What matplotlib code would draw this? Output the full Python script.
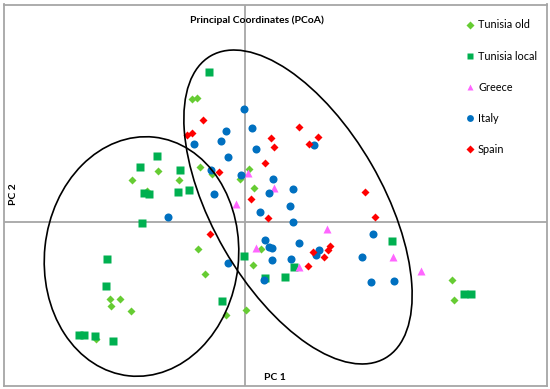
import matplotlib.pyplot as plt
from matplotlib.patches import Ellipse

plt.rcParams['font.family'] = ['Lato', 'DejaVu Sans']

# coordenadas PCoA (PC1, PC2)
tun_old_x = [-0.53, -0.48, -0.87, -0.45, 0.04, -0.05, -1.13, -0.66, -0.33, -0.98, 0.09, -0.47,
             0.16, 0.08, -0.40, -1.35, -1.25, -1.34, -1.14, 0.01, -0.19, -1.49, 2.07, 2.09]
tun_old_y = [1.23, 1.24, 0.51, 0.55, 0.53, 0.43, 0.42, 0.42, 0.48, 0.31, 0.34, -0.27,
             -0.27, -0.43, -0.52, -0.77, -0.77, -0.84, -0.89, -0.88, -0.93, -1.17, -0.58, -0.78]

tun_local_x = [-0.36, -0.88, -1.05, -0.65, -0.67, -0.56, -1.01, -0.96, -1.03, -0.01, 0.20, -1.38,
               -1.39, -0.23, -1.66, -1.61, -1.50, -1.32, 1.47, 0.49, 0.40, 2.19, 2.26]
tun_local_y = [1.50, 0.66, 0.55, 0.52, 0.30, 0.32, 0.29, 0.28, -0.01, -0.34, -0.56, -0.37,
               -0.64, -0.79, -1.13, -1.13, -1.14, -1.19, -0.19, -0.45, -0.55, -0.72, -0.72]

greece_x = [0.03, 0.29, -0.09, 0.11, 0.82, 1.48, 0.54, 1.76]
greece_y = [0.49, 0.34, 0.18, -0.26, -0.07, -0.35, -0.45, -0.49]

italy_x = [-0.01, -0.19, 0.07, -0.51, -0.24, 0.11, -0.17, -0.34, -0.04, 0.28, -0.31, 0.24, 0.69,
           0.48, 0.15, -0.77, 0.20, 0.24, 0.27, -0.17, 0.27, 0.19, 0.45, 0.48, 1.28, 0.54, 0.74,
           0.71, 1.17, 0.46, 1.26, 1.49]
italy_y = [1.13, 0.91, 0.94, 0.78, 0.81, 0.73, 0.65, 0.52, 0.47, 0.43, 0.28, 0.29, 0.77,
           0.33, 0.10, 0.05, -0.18, -0.25, -0.26, -0.41, -0.38, -0.58, 0.16, 0.00, -0.12, -0.21, -0.28,
           -0.33, -0.35, -0.37, -0.60, -0.59]

spain_x = [-0.42, -0.58, -0.53, 0.26, 0.29, 0.20, -0.26, 0.54, 0.73, 0.64, 1.20, 0.06, 0.23,
           -0.35, 1.30, 0.85, 0.83, 0.68, 0.79, 0.63]
spain_y = [1.02, 0.87, 0.89, 0.84, 0.75, 0.59, 0.50, 0.95, 0.85, 0.78, 0.30, 0.23, 0.04,
           -0.12, 0.05, -0.24, -0.28, -0.30, -0.35, -0.44]

# elipses de agrupamiento: centro, ancho, alto, ángulo
ell_left = ((-1.035, -0.345), 1.94, 2.40, -6)
ell_right = ((0.53, 0.15), 3.49, 1.70, -60)

fig = plt.figure(figsize=(5.5, 3.89), dpi=100)
ax = fig.add_axes([3.5 / 550, 3.5 / 389, 543 / 550, 381 / 389])

ax.axhline(0, color='#A6A6A6', lw=1.3, zorder=1)
ax.axvline(0, color='#A6A6A6', lw=1.3, zorder=1)

ms = 5.2
ax.plot(tun_old_x, tun_old_y, 'D', color='#66CC33', ms=ms - 0.8, mec='none', ls='none', label='Tunisia old')
ax.plot(tun_local_x, tun_local_y, 's', color='#00B050', ms=ms, mec='none', ls='none', label='Tunisia local')
ax.plot(greece_x, greece_y, '^', color='#FF66FF', ms=ms + 0.4, mec='none', ls='none', label='Greece')
ax.plot(italy_x, italy_y, 'o', color='#0070C0', ms=ms + 0.6, mec='none', ls='none', label='Italy')
ax.plot(spain_x, spain_y, 'D', color='#FF0000', ms=ms - 0.8, mec='none', ls='none', label='Spain')

for (c, w, h, a) in [ell_left, ell_right]:
    ax.add_patch(Ellipse(c, w, h, angle=a, fill=False, ec='black', lw=1.2, zorder=4))

ax.set_xlim(-2.415, 3.015)
ax.set_ylim(-1.635, 2.175)
ax.set_xticks([])
ax.set_yticks([])
for s in ax.spines.values():
    s.set_color('#A6A6A6')
    s.set_linewidth(1.3)

ax.text(0.12, 2.02, 'Principal Coordinates (PCoA)', fontsize=7.5, fontweight='bold',
        ha='center', va='center')
ax.text(0.30, -1.55, 'PC 1', fontsize=7.5, fontweight='bold', ha='center', va='center')
ax.text(-2.32, 0.28, 'PC 2', fontsize=7.5, fontweight='bold', ha='center', va='center', rotation=90)

ax.legend(loc='upper left', bbox_to_anchor=(0.852, 0.961), frameon=False, fontsize=7.8,
          handlelength=0.8, handletextpad=0.3, labelspacing=1.86, borderpad=0,
          borderaxespad=0, markerscale=0.85)

fig.savefig('out.png', dpi=100)
